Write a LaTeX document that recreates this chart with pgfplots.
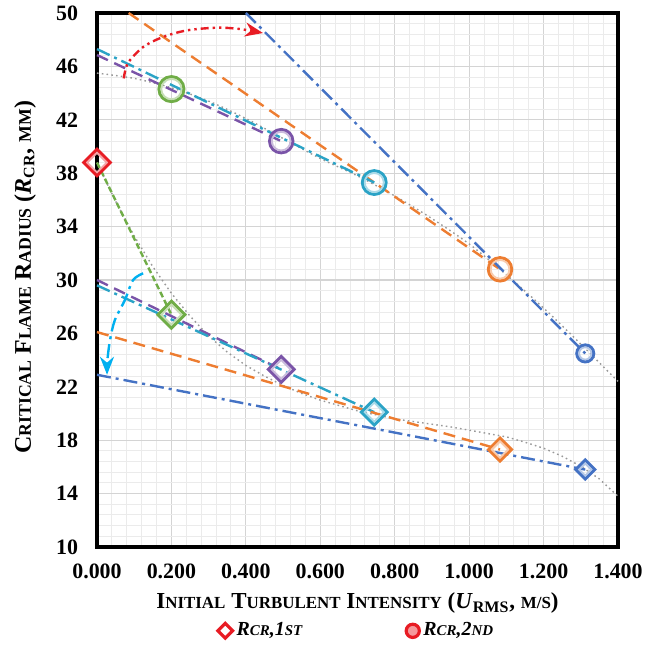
\documentclass[border=0pt]{standalone}
\usepackage{pgfplots}
\pgfplotsset{compat=1.18}
\usepackage{fontspec}
\setmainfont{Liberation Serif}
\usetikzlibrary{arrows.meta}
\definecolor{corange}{RGB}{237,125,49}
\definecolor{cblue}{RGB}{68,114,196}
\definecolor{cgreen}{RGB}{112,173,71}
\definecolor{cpurple}{RGB}{122,84,168}
\definecolor{ccyan}{RGB}{43,163,198}
\definecolor{clight}{RGB}{0,176,240}
\definecolor{cred}{RGB}{232,28,36}
\newcommand{\scs}[1]{{\fontsize{8.5}{10}\selectfont #1}}
\newcommand{\yscs}[1]{{\fontsize{8.9}{10}\selectfont #1}}
\newcommand{\lscs}[1]{{\fontsize{7.5}{9}\selectfont #1}}
\begin{document}
\begin{tikzpicture}
\begin{axis}[name=ax, scale only axis, width=260.5bp, height=267bp,
  xmin=0, xmax=1.4, ymin=10, ymax=50, clip=false,
  xtick={0,0.2,0.4,0.6,0.8,1.0,1.2,1.4}, ytick={10,14,18,22,26,30,34,38,42,46,50},
  minor x tick num=4, minor y tick num=4, grid=both,
  major grid style={black!17, line width=0.6bp},
  minor grid style={black!8, line width=0.5bp},
  axis line style={line width=1.8bp, black},
  major tick length=0pt, minor tick length=0pt,
  tick label style={font=\bfseries\fontsize{11}{12}\selectfont},
  /pgf/number format/assume math mode=true,
  x tick label style={/pgf/number format/fixed, /pgf/number format/zerofill, /pgf/number format/precision=3, yshift=-5bp},
  y tick label style={xshift=-6bp},
  xlabel={\bfseries\fontsize{11.5}{13}\selectfont I\scs{NITIAL} T\scs{URBULENT} I\scs{NTENSITY} (\textit{U}\textsubscript{RMS}, \scs{M/S})},
  ylabel={\bfseries\fontsize{12}{13}\selectfont C\yscs{RITICAL} F\yscs{LAME} R\yscs{ADIUS} (\textit{R}\textsubscript{CR}, \yscs{MM})},
  xlabel style={at={(axis description cs:0.5,-0.105)}, anchor=center},
  ylabel style={at={(axis description cs:-0.138,0.505)}, anchor=center},
  legend style={at={(axis description cs:0.5,-0.157)}, anchor=center, draw=none, fill=none,
    font=\bfseries\itshape\fontsize{10}{12}\selectfont, legend columns=2,
    /tikz/every even column/.append style={column sep=50bp}},
  dashA/.style={dash pattern=on 6bp off 3.5bp},
  dashG/.style={dash pattern=on 3bp off 1.5bp},
  dashdot/.style={dash pattern=on 7bp off 2.5bp on 1.5bp off 2.5bp},
  dotg/.style={black!40, line width=0.7bp, dash pattern=on 0.8bp off 1.6bp},
  ringO/.style 2 args={only marks, mark=o, mark size=#2bp, line width=1.5bp, #1},
  ringI/.style 2 args={only marks, mark=o, mark size=#2bp, line width=0.9bp, #1!40},
  diaO/.style 2 args={only marks, mark=square, mark options={rotate=45}, mark size=#2bp, line width=1.5bp, #1},
  diaI/.style 2 args={only marks, mark=square, mark options={rotate=45}, mark size=#2bp, line width=0.9bp, #1!40},
]
\addlegendimage{only marks, mark=square, mark options={rotate=45, draw=cred, fill=cred!30, line width=1.6bp}, mark size=2.6bp}
\addlegendentry{R\lscs{CR},1\lscs{ST}}
\addlegendimage{only marks, mark=*, mark options={draw=cred, fill=cred!45, line width=1.6bp}, mark size=3.3bp}
\addlegendentry{R\lscs{CR},2\lscs{ND}}

% dotted trend curves
\addplot[dotg, smooth] coordinates {(0,45.5)(0.1,45.1)(0.2,44.4)(0.3,43.4)(0.4,42.1)(0.5,40.6)(0.6,39.1)(0.7,37.8)(0.8,36.3)(0.9,34.6)(1.0,32.7)(1.1,30.4)(1.2,27.9)(1.3,25.2)(1.4,22.4)};
\addplot[dotg] coordinates {(0,38.8)(0.05,35.9)(0.1,33.3)(0.15,31.0)(0.2,29.0)(0.25,27.3)(0.3,25.8)(0.35,24.6)(0.4,23.6)(0.45,22.8)(0.5,22.1)(0.55,21.5)(0.6,21.0)(0.65,20.6)(0.7,20.2)(0.75,19.9)(0.8,19.6)(0.85,19.4)(0.9,19.2)(0.95,19.0)(1.0,18.75)(1.05,18.5)(1.1,18.25)(1.15,17.85)(1.2,17.4)(1.25,16.8)(1.3,16.05)(1.35,15.1)(1.4,13.8)};

% upper lines
\addplot[corange, line width=1.2bp, dashA] coordinates {(0.085,50)(1.083,30.8)};
\addplot[cblue, line width=1.2bp, dashdot] coordinates {(0.40,50)(1.312,24.5)};
\addplot[ccyan, line width=1.2bp, dashdot] coordinates {(0,47.3)(0.745,37.3)};
\addplot[cpurple, line width=1.2bp, dashA] coordinates {(0,46.85)(0.495,40.4)};

% lower lines
\addplot[cgreen, line width=1.2bp, dashG] coordinates {(0,38.8)(0.2,27.4)};
\addplot[cpurple, line width=1.2bp, dashA] coordinates {(0,30.0)(0.495,23.3)};
\addplot[ccyan, line width=1.2bp, dashdot] coordinates {(0,29.6)(0.745,20.1)};
\addplot[corange, line width=1.2bp, dashA] coordinates {(0,26.1)(1.083,17.3)};
\addplot[cblue, line width=1.2bp, dashdot] coordinates {(0,22.9)(1.312,15.8)};

% arrows
\addplot[cred, line width=1.2bp, smooth, dash pattern=on 4bp off 2bp on 1.2bp off 2bp on 1.2bp off 2bp,
  -{Stealth[length=9bp,width=7bp]}] coordinates {(0.072,45.1)(0.083,46.25)(0.124,47.45)(0.177,48.2)(0.242,48.7)(0.322,48.9)(0.384,48.8)(0.446,48.5)};
\addplot[clight, line width=1.2bp, smooth, dash pattern=on 7bp off 2.5bp on 1.5bp off 2.5bp,
  -{Stealth[length=9bp,width=7bp]}] coordinates {(0.124,30.5)(0.097,30.0)(0.075,28.5)(0.048,27.0)(0.035,25.5)(0.028,24.0)(0.027,22.9)};

% circle markers (R_cr,2nd)
\addplot[ringO={cgreen}{6.25}] coordinates {(0.2,44.3)};
\addplot[ringI={cgreen}{5.05}] coordinates {(0.2,44.3)};
\addplot[ringO={cpurple}{5.85}] coordinates {(0.495,40.4)};
\addplot[ringI={cpurple}{4.65}] coordinates {(0.495,40.4)};
\addplot[ringO={ccyan}{5.95}] coordinates {(0.745,37.3)};
\addplot[ringI={ccyan}{4.75}] coordinates {(0.745,37.3)};
\addplot[ringO={corange}{5.85}] coordinates {(1.083,30.8)};
\addplot[ringI={corange}{4.65}] coordinates {(1.083,30.8)};
\addplot[ringO={cblue}{4.25}] coordinates {(1.312,24.5)};
\addplot[ringI={cblue}{3.05}] coordinates {(1.312,24.5)};

% diamond markers (R_cr,1st)
\addplot[diaO={cred}{4.65}] coordinates {(0,38.8)};
\addplot[diaI={cred}{3.45}] coordinates {(0,38.8)};
\addplot[diaO={cgreen}{4.75}] coordinates {(0.2,27.4)};
\addplot[diaI={cgreen}{3.55}] coordinates {(0.2,27.4)};
\addplot[diaO={cpurple}{4.55}] coordinates {(0.495,23.3)};
\addplot[diaI={cpurple}{3.35}] coordinates {(0.495,23.3)};
\addplot[diaO={ccyan}{4.55}] coordinates {(0.745,20.1)};
\addplot[diaI={ccyan}{3.35}] coordinates {(0.745,20.1)};
\addplot[diaO={corange}{4.05}] coordinates {(1.083,17.3)};
\addplot[diaI={corange}{2.85}] coordinates {(1.083,17.3)};
\addplot[diaO={cblue}{3.35}] coordinates {(1.312,15.8)};
\addplot[diaI={cblue}{2.15}] coordinates {(1.312,15.8)};
\end{axis}
\pgfresetboundingbox
\path[use as bounding box] (ax.south west) ++(-48.5bp,-50.5bp) rectangle ++(329bp,324bp);
\end{tikzpicture}
\end{document}
